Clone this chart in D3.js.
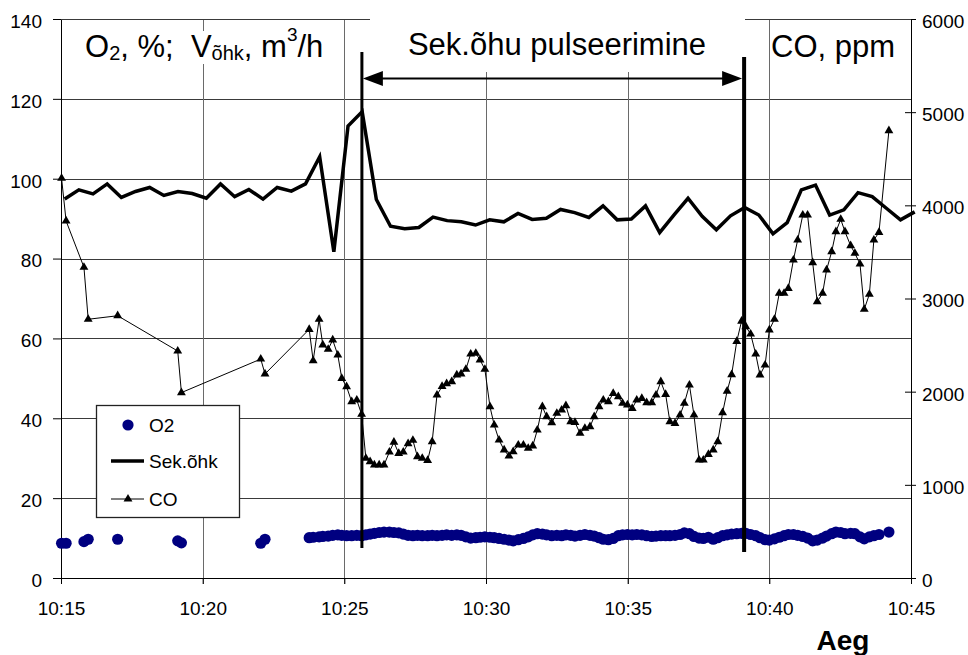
<!DOCTYPE html>
<html><head><meta charset="utf-8">
<script src="https://cdn.jsdelivr.net/npm/d3@7"></script>
<style>
body{margin:0;background:#fff}
svg{display:block}
text{font-family:"Liberation Sans",Arial,Helvetica,sans-serif;white-space:pre}
</style>
</head><body>
<svg id="c" width="968" height="655"></svg>
<script>
// ---------- DATA ----------
// time axis: minutes after 10:15
const tickMinutes = [0,5,10,15,20,25,30];
const tickLabels = ["10:15","10:20","10:25","10:30","10:35","10:40","10:45"];
const leftTicks = [0,20,40,60,80,100,120,140];
const rightTicks = [0,1000,2000,3000,4000,5000,6000];

// Sek.õhk (m3/h, left axis)
const sekTime = [0.13,0.63,1.13,1.63,2.13,2.63,3.13,3.63,4.13,4.63,5.13,5.63,6.13,6.63,7.13,7.63,8.13,8.63,9.13,9.63,
 10.13,10.63,11.13,11.63,12.13,12.63,13.13,13.63,14.13,14.63,15.13,15.63,16.13,16.63,17.13,17.63,18.13,18.63,19.13,19.63,
 20.13,20.63,21.13,21.63,22.13,22.63,23.13,23.63,24.13,24.63,25.13,25.63,26.13,26.63,27.13,27.63,28.13,28.63,29.13,29.63,30.13];
const sekValue = [94.9,97.2,96.2,98.7,95.3,96.8,97.8,95.8,96.8,96.3,
 95.1,98.7,95.5,97.3,94.9,97.8,96.9,98.7,105.5,81.7,
 113.2,116.8,94.8,88.1,87.5,87.8,90.4,89.5,89.2,88.4,
 89.7,89.2,91.3,89.8,90.1,92.3,91.5,90.3,93.2,89.7,
 89.9,93.2,86.5,90.9,95.1,90.6,87.2,90.7,92.8,90.9,
 86.2,89.0,97.2,98.4,90.9,92.2,96.5,95.5,92.6,89.7,91.7];

// measurement times for CO and O2 (minutes after 10:15)
const measTime = [0.02,0.18,0.81,0.96,2.00,4.12,4.25,7.05,7.20,
 8.76,8.90,9.11,9.24,9.43,9.59,9.77,9.91,10.08,10.26,
 10.44,10.61,10.76,10.91,11.06,11.23,11.40,11.59,11.75,11.92,
 12.08,12.25,12.42,12.58,12.75,12.94,13.10,13.27,13.45,13.61,
 13.79,13.97,14.12,14.29,14.46,14.64,14.79,14.96,15.14,15.29,
 15.46,15.64,15.81,15.96,16.14,16.32,16.49,16.65,16.81,16.99,
 17.14,17.32,17.50,17.67,17.82,17.99,18.14,18.32,18.49,18.67,
 18.82,18.99,19.14,19.32,19.49,19.67,19.82,19.99,20.16,20.32,
 20.50,20.67,20.85,21.00,21.17,21.34,21.49,21.67,21.85,22.00,
 22.18,22.34,22.52,22.67,22.85,23.02,23.18,23.35,23.51,23.67,
 23.85,24.02,24.17,24.34,24.52,24.67,24.85,25.00,25.18,25.35,
 25.52,25.67,25.85,26.00,26.18,26.35,26.53,26.69,26.88,27.02,
 27.20,27.35,27.52,27.67,27.87,28.02,28.20,28.35,28.53,28.69,
 28.87,29.22];

// CO (ppm, right axis)
const coValue = [4290,3832,3335,2777,2815,2436,1990,2350,2190,
 2669,2332,2777,2501,2455,2555,2393,2143,2053,1892,
 1910,1757,1285,1248,1213,1213,1213,1352,1458,1338,
 1352,1442,1478,1302,1285,1262,1463,1964,2057,2086,
 2107,2179,2190,2240,2404,2412,2340,2240,1839,1642,
 1481,1374,1309,1356,1427,1427,1392,1417,1588,1839,
 1731,1667,1768,1803,1849,1678,1671,1553,1607,1624,
 1731,1839,1910,1892,1982,1946,1875,1857,1821,1910,
 1928,1882,1882,1964,2107,1971,1678,1660,1749,1875,
 2071,1749,1266,1266,1327,1374,1463,1774,2005,2183,
 2540,2757,2698,2619,2404,2179,2286,2662,2777,3056,
 3056,3109,3413,3628,3896,3896,3384,2966,3056,3306,
 3502,3717,3850,3717,3567,3485,3370,2884,3045,3628,
 3710,4801];

// O2 (%, left axis)
const o2Value = [8.7,8.7,9.1,9.7,9.7,9.3,8.8,8.7,9.7,
 10.1,10.2,10.3,10.4,10.5,10.7,10.8,10.7,10.6,10.6,
 10.7,10.6,10.8,11.0,11.2,11.4,11.5,11.5,11.4,11.3,
 11.0,10.7,10.6,10.7,10.6,10.6,10.7,10.6,10.7,10.8,
 10.7,10.8,10.7,10.3,10.0,10.1,10.2,10.3,10.2,10.1,
 9.9,9.7,9.5,9.3,9.6,9.9,10.3,10.8,11.1,11.0,
 10.8,10.6,10.7,10.6,10.8,10.7,10.5,10.7,10.9,10.7,
 10.5,10.1,9.7,9.6,9.9,10.6,10.8,10.9,10.8,10.9,
 10.8,10.6,10.4,10.5,10.6,10.6,10.6,10.7,10.9,11.3,
 11.1,10.4,10.0,9.9,10.2,9.7,10.1,10.6,10.8,11.0,
 11.1,11.2,11.2,10.9,10.6,10.1,9.6,9.5,9.8,10.2,
 10.6,10.9,10.9,10.7,10.4,10.0,9.3,9.5,10.0,10.5,
 11.1,11.5,11.4,11.1,11.2,11.1,10.3,9.8,10.3,10.6,
 10.9,11.5];

// annotation: pulsing interval (minutes after 10:15)
const pulseStart = 10.62, pulseEnd = 24.11;

// ---------- CHART ----------
const svg = d3.select("#c");
const L = 61, R = 911, T = 19, B = 578;
const x = d3.scaleLinear().domain([0,30]).range([L,R]);
const yL = d3.scaleLinear().domain([0,140]).range([B,T]);
const yR = d3.scaleLinear().domain([0,6000]).range([B,T]);
const crisp = v => Math.round(v) + 0.5;

// grid
const grid = svg.append("g");
grid.selectAll(".hg").data(leftTicks.filter(d => d > 0)).join("line")
  .attr("x1", L).attr("x2", R)
  .attr("y1", d => crisp(yL(d))).attr("y2", d => crisp(yL(d)))
  .attr("stroke", "#3a3a3a").attr("stroke-width", 1);
grid.selectAll(".vg").data(tickMinutes.filter(d => d > 0 && d < 30)).join("line")
  .attr("x1", d => crisp(x(d))).attr("x2", d => crisp(x(d)))
  .attr("y1", T).attr("y2", B + 6)
  .attr("stroke", "#6a6a6a").attr("stroke-width", 1);

// label backgrounds (hide grid behind text)
svg.append("rect").attr("x", 75).attr("y", 31).attr("width", 262).attr("height", 33).attr("fill", "#fff");
svg.append("rect").attr("x", 370).attr("y", 12).attr("width", 375).attr("height", 60).attr("fill", "#fff");

// axes
const fs = 19;
const axL = svg.append("g").attr("transform", `translate(${L},0)`)
  .call(d3.axisLeft(yL).tickValues(leftTicks).tickFormat(d3.format("d")).tickSize(8).tickSizeOuter(0).tickPadding(11));
const axR = svg.append("g").attr("transform", `translate(${R},0)`)
  .call(d3.axisRight(yR).tickValues(rightTicks).tickFormat(d3.format("d")).tickSize(5).tickSizeOuter(0).tickPadding(6));
axR.selectAll(".tick line").attr("x1", -6);
const axB = svg.append("g").attr("transform", `translate(0,${B})`)
  .call(d3.axisBottom(x).tickValues(tickMinutes).tickFormat((d,i) => tickLabels[i]).tickSize(6).tickSizeOuter(0).tickPadding(17.5));
[axL, axR, axB].forEach(a => {
  a.selectAll("text").attr("font-size", fs).attr("fill", "#000")
    .style("font-family", '"Liberation Sans",Arial,sans-serif');
  a.selectAll("line,path").attr("stroke", "#000");
});
axL.selectAll("text").attr("dy", "0.44em");
axR.selectAll("text").attr("dy", "0.44em");
axB.select(".domain").remove();
// top and bottom border
svg.append("line").attr("x1", L).attr("x2", 370).attr("y1", T + 0.5).attr("y2", T + 0.5).attr("stroke", "#3a3a3a");
svg.append("line").attr("x1", 745).attr("x2", R).attr("y1", T + 0.5).attr("y2", T + 0.5).attr("stroke", "#3a3a3a");
svg.append("line").attr("x1", L).attr("x2", R + 0.5).attr("y1", B + 0.5).attr("y2", B + 0.5).attr("stroke", "#000");

// O2 dots
const meas = measTime.map((t,i) => ({t, co: coValue[i], o2: o2Value[i]}));
svg.append("g").selectAll("circle").data(meas).join("circle")
  .attr("cx", d => x(d.t)).attr("cy", d => yL(d.o2)).attr("r", 5.6)
  .attr("fill", "#000080");

// Sek.õhk line
const sek = sekTime.map((t,i) => ({t, v: sekValue[i]}));
svg.append("path").datum(sek)
  .attr("d", d3.line().x(d => x(d.t)).y(d => yL(d.v)))
  .attr("fill", "none").attr("stroke", "#000").attr("stroke-width", 3.5).attr("stroke-linejoin", "miter");

// CO line + triangles
svg.append("path").datum(meas)
  .attr("d", d3.line().x(d => x(d.t)).y(d => yR(d.co)))
  .attr("fill", "none").attr("stroke", "#000").attr("stroke-width", 1);
const tri = d3.symbol().type(d3.symbolTriangle).size(34);
svg.append("g").selectAll("path").data(meas).join("path")
  .attr("d", tri).attr("transform", d => `translate(${x(d.t)},${yR(d.co)})`).attr("fill", "#000");

// pulsing markers
svg.append("line").attr("x1", x(pulseStart)).attr("x2", x(pulseStart)).attr("y1", 52).attr("y2", 548)
  .attr("stroke", "#000").attr("stroke-width", 3);
svg.append("line").attr("x1", x(pulseEnd)).attr("x2", x(pulseEnd)).attr("y1", 57).attr("y2", 552)
  .attr("stroke", "#000").attr("stroke-width", 4);
const ay = 78.5, xs = x(pulseStart) + 1, xe = x(pulseEnd) - 2;
svg.append("line").attr("x1", xs + 10).attr("x2", xe - 10).attr("y1", ay).attr("y2", ay).attr("stroke", "#000").attr("stroke-width", 2);
svg.append("path").attr("d", `M${xs},${ay} L${xs+20},${ay-7.5} L${xs+20},${ay+7.5} Z`).attr("fill", "#000");
svg.append("path").attr("d", `M${xe},${ay} L${xe-20},${ay-7.5} L${xe-20},${ay+7.5} Z`).attr("fill", "#000");

// titles
const t1 = svg.append("text").attr("x", 85).attr("y", 57).attr("font-size", 31);
t1.append("tspan").text("O");
t1.append("tspan").attr("dy", 3).attr("font-size", 20).text("2");
t1.append("tspan").attr("dy", -3).text(", %;  V");
t1.append("tspan").attr("dy", 3).attr("font-size", 20).text("õhk");
t1.append("tspan").attr("dy", -3).text(", m");
t1.append("tspan").attr("dy", -16).attr("font-size", 19).text("3");
t1.append("tspan").attr("dy", 16).text("/h");

svg.append("text").attr("x", 557).attr("y", 55).attr("text-anchor", "middle").attr("font-size", 31).text("Sek.õhu pulseerimine");
svg.append("text").attr("x", 771).attr("y", 57).attr("font-size", 31).text("CO, ppm");
svg.append("text").attr("x", 843).attr("y", 650).attr("text-anchor", "middle").attr("font-size", 28).attr("font-weight", "bold").text("Aeg");

// legend
const lg = svg.append("g");
lg.append("rect").attr("x", 96.5).attr("y", 405.5).attr("width", 143).attr("height", 112)
  .attr("fill", "#fff").attr("stroke", "#222").attr("stroke-width", 1.3);
lg.append("circle").attr("cx", 128).attr("cy", 425).attr("r", 5.6).attr("fill", "#000080");
lg.append("text").attr("x", 149).attr("y", 432).attr("font-size", fs).text("O2");
lg.append("line").attr("x1", 111).attr("x2", 144).attr("y1", 461).attr("y2", 461).attr("stroke", "#000").attr("stroke-width", 3.5);
lg.append("text").attr("x", 149).attr("y", 468).attr("font-size", fs).text("Sek.õhk");
lg.append("line").attr("x1", 111).attr("x2", 144).attr("y1", 499).attr("y2", 499).attr("stroke", "#000").attr("stroke-width", 1);
lg.append("path").attr("d", tri).attr("transform", "translate(128,499)").attr("fill", "#000");
lg.append("text").attr("x", 149).attr("y", 506).attr("font-size", fs).text("CO");
</script>
</body></html>
